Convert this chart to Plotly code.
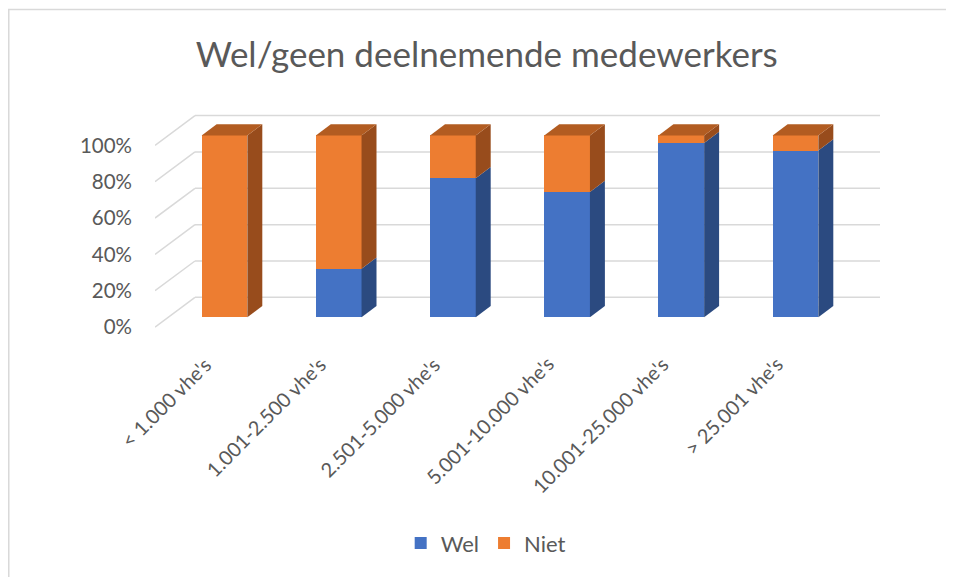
import plotly.graph_objects as go

categories = ["< 1.000 vhe's", "1.001-2.500 vhe's", "2.501-5.000 vhe's",
              "5.001-10.000 vhe's", "10.001-25.000 vhe's", "> 25.001 vhe's"]
wel = [0, 26.7, 76.4, 68.9, 95.8, 91.7]
niet = [100, 73.3, 23.6, 31.1, 4.2, 8.3]
pct_ticks = [0, 20, 40, 60, 80, 100]

BLUE, BLUE_SIDE = "#4472C4", "#2B4A80"
ORANGE, ORANGE_SIDE, ORANGE_TOP = "#ED7D31", "#984C1C", "#B25C21"
GRID = "#D9D9D9"
TXT = "#595959"
FONT = "Lato, 'Open Sans', sans-serif"

# pseudo 3d geometry (category units / percent units)
bar_w = 0.40
depth_x, depth_y = 0.131, 6.2          # bar depth
wall_front_x, wall_front_y = -0.6086, -5.45
wall_dx, wall_dy = 0.350, 16.37
grid_end_x = 5.74

fig = go.Figure()
xs = list(range(len(categories)))

fig.add_trace(go.Bar(x=xs, y=wel, name="Wel", marker=dict(color=BLUE, line=dict(width=0)),
                     width=bar_w))
fig.add_trace(go.Bar(x=xs, y=niet, name="Niet", marker=dict(color=ORANGE, line=dict(width=0)),
                     width=bar_w))


def face(px, py, color):
    fig.add_trace(go.Scatter(x=px, y=py, mode="lines", fill="toself", fillcolor=color,
                             line=dict(width=0, color=color), showlegend=False,
                             hoverinfo="skip"))


for i in xs:
    xr = i + bar_w / 2
    xl = i - bar_w / 2
    segs = [(0, wel[i], BLUE_SIDE), (wel[i], wel[i] + niet[i], ORANGE_SIDE)]
    for b, t, c in segs:
        if t - b <= 0:
            continue
        face([xr, xr, xr + depth_x, xr + depth_x, xr],
             [b, t, t + depth_y, b + depth_y, b], c)
    top = wel[i] + niet[i]
    face([xl, xr, xr + depth_x, xl + depth_x, xl],
         [top, top, top + depth_y, top + depth_y, top], ORANGE_TOP)

# walls / gridlines behind the bars
for v in pct_ticks:
    y0 = v + wall_front_y
    y1 = y0 + wall_dy
    fig.add_shape(type="line", layer="below", x0=wall_front_x, y0=y0,
                  x1=wall_front_x + wall_dx, y1=y1, line=dict(color=GRID, width=1.5))
    fig.add_shape(type="line", layer="below", x0=wall_front_x + wall_dx, y0=y1,
                  x1=grid_end_x, y1=y1, line=dict(color=GRID, width=1.5))

# rotated category labels, end of text just left of the bar centre
for i, cat in zip(xs, categories):
    fig.add_annotation(x=i, y=0, xref="x", yref="paper", text=cat, textangle=-45,
                       showarrow=False, xanchor="right", yanchor="top",
                       xshift=-6, yshift=-11, font=dict(size=20, color=TXT, family=FONT))

# chart border (page body has an 8px margin)
fig.add_shape(type="rect", xref="paper", yref="paper", x0=-0.2003, y0=-1.05,
              x1=1.2, y1=1.380, line=dict(color=GRID, width=1.5))

fig.update_layout(
    width=946, height=569,
    margin=dict(l=147, r=69, t=92, b=237),
    barmode="stack",
    plot_bgcolor="white", paper_bgcolor="white",
    font=dict(family=FONT, color=TXT),
    title=dict(text="Wel/geen deelnemende medewerkers", x=0.506, y=1 - 47 / 569,
               xanchor="center", yanchor="middle",
               font=dict(size=35, color=TXT, family=FONT)),
    legend=dict(orientation="h", x=0.453, y=-0.8625, xanchor="center", yanchor="middle",
                font=dict(size=22, color=TXT), traceorder="normal"),
    showlegend=True,
)
fig.update_xaxes(range=[-0.6086, 5.7837], tickvals=xs, showticklabels=False,
                 showgrid=False, zeroline=False, showline=False)
fig.update_yaxes(range=[-11.46, 119.5], tickvals=[v + wall_front_y for v in pct_ticks],
                 ticktext=[f"{v}%" for v in pct_ticks], showgrid=False, zeroline=False,
                 showline=False, ticklabelstandoff=22, tickfont=dict(size=20.5, color=TXT))

fig.write_html("out.html")
